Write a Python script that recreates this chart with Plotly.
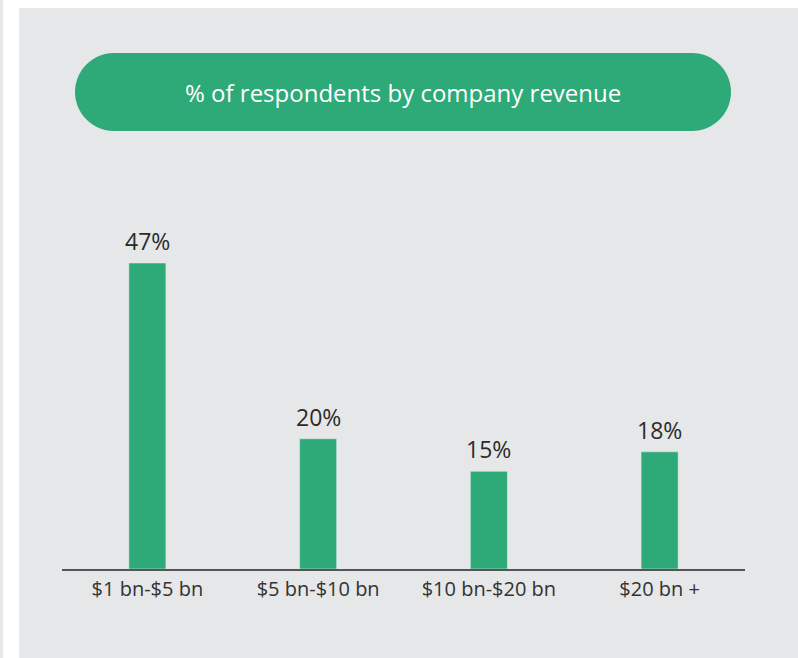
import plotly.graph_objects as go

categories = ["$1 bn-$5 bn", "$5 bn-$10 bn", "$10 bn-$20 bn", "$20 bn +"]
values = [47, 20, 15, 18]
value_labels = ["47%", "20%", "15%", "18%"]
title_text = "% of respondents by company revenue"

GREEN = "#2daa78"
PANEL = "#e6e7e8"
W, H = 798, 658
L, R, T, B = 62, 53, 150, 89
PW, PH = W - L - R, H - T - B


def px(x):
    return (x - L) / PW


def py(y):
    return (H - B - y) / PH


fig = go.Figure(go.Bar(x=categories, y=values, marker_color=GREEN, width=0.217,
                       hoverinfo="skip"))

for c, v, t in zip(categories, values, value_labels):
    fig.add_annotation(x=c, y=v, text=t, showarrow=False, yanchor="bottom",
                       yshift=4, font=dict(size=23, color="#2b2b2b", family="Open Sans"))

# pill path (bezier approximations of semicircles)
x0, x1, y0, y1 = 75, 731, 53, 131
r = (y1 - y0) / 2
k = 0.5523 * r
path = (
    f"M {px(x0 + r)},{py(y0)} L {px(x1 - r)},{py(y0)} "
    f"C {px(x1 - r + k)},{py(y0)} {px(x1)},{py(y0 + r - k)} {px(x1)},{py(y0 + r)} "
    f"C {px(x1)},{py(y0 + r + k)} {px(x1 - r + k)},{py(y1)} {px(x1 - r)},{py(y1)} "
    f"L {px(x0 + r)},{py(y1)} "
    f"C {px(x0 + r - k)},{py(y1)} {px(x0)},{py(y0 + r + k)} {px(x0)},{py(y0 + r)} "
    f"C {px(x0)},{py(y0 + r - k)} {px(x0 + r - k)},{py(y0)} {px(x0 + r)},{py(y0)} Z"
)

shapes = [
    dict(type="rect", xref="paper", yref="paper", x0=px(19), x1=px(W + 5), y0=py(H + 5), y1=py(8),
         fillcolor=PANEL, line_width=0, layer="below"),
    dict(type="rect", xref="paper", yref="paper", x0=px(-5), x1=px(3), y0=py(H + 5), y1=py(-5),
         fillcolor=PANEL, line_width=0, layer="below"),
    dict(type="path", xref="paper", yref="paper", path=path, fillcolor=GREEN, line_width=0,
         layer="below"),
]

fig.add_annotation(xref="paper", yref="paper", x=px((x0 + x1) / 2), y=py((y0 + y1) / 2),
                   text=title_text, showarrow=False, xanchor="center", yanchor="middle",
                   font=dict(size=24, color="white", family="Open Sans"))

fig.update_layout(
    width=W, height=H,
    margin=dict(l=L, r=R, t=T, b=B),
    paper_bgcolor="white",
    plot_bgcolor="rgba(0,0,0,0)",
    shapes=shapes,
    showlegend=False,
    font=dict(family="Open Sans", color="#333333"),
    xaxis=dict(showgrid=False, showline=True, linecolor="#555555", linewidth=1.5,
               ticks="outside", ticklen=1, tickcolor="rgba(0,0,0,0)",
               tickfont=dict(size=20, color="#333333"), fixedrange=True),
    yaxis=dict(range=[0, PH / 6.51], visible=False, fixedrange=True),
)

fig.write_html("out.html", config={"displayModeBar": False},
               post_script="document.body.style.margin='0';document.body.style.overflow='hidden';")
